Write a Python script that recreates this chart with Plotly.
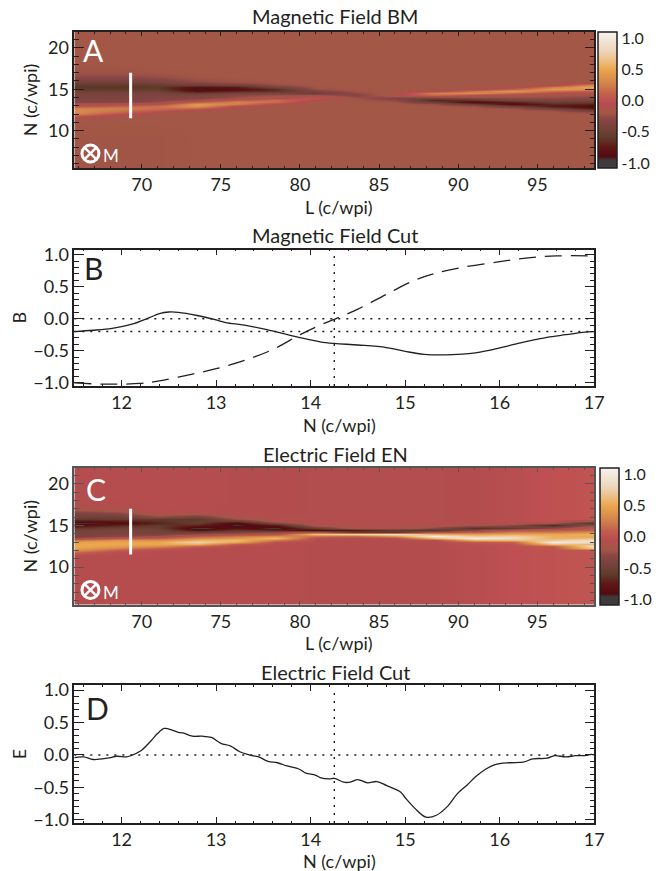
import numpy as np
import plotly.graph_objects as go

W, H = 658, 871
FONT = "Lato"
INK = "#231f20"

# ---- heat-map tables (values in hundredths), one list per L column, rows follow N_ROWS
N_ROWS = [5.5, 9, 11, 11.5, 11.75, 12, 12.25, 12.5, 12.75, 13, 13.25, 13.5, 13.75, 14,
          14.25, 14.5, 14.75, 15, 15.25, 15.5, 15.75, 16, 16.5, 17, 18, 22]
L_COLS = [65.7, 68.5, 71, 73.5, 76, 78.5, 81, 83.5, 86, 88.5, 91, 93.5, 96, 98.6]

BM_COLS = [
 [-21,-21,-20,-12,3,28,33,35,24,2,-16,-32,-37,-38,-40,-42,-48,-58,-62,-58,-50,-42,-30,-23,-20,-20],
 [-21,-21,-20,-19,-14,-2,15,22,25,10,-14,-30,-36,-38,-40,-43,-50,-60,-63,-58,-50,-42,-30,-23,-20,-20],
 [-21,-21,-20,-20,-20,-18,-8,8,18,18,-5,-25,-32,-34,-36,-40,-48,-55,-60,-55,-46,-36,-26,-21,-20,-20],
 [-20,-20,-20,-20,-20,-20,-19,-10,15,40,42,10,-22,-32,-38,-55,-80,-92,-82,-52,-34,-26,-21,-20,-20,-20],
 [-20,-20,-20,-20,-20,-20,-20,-20,-16,-2,25,30,6,-22,-30,-42,-68,-85,-75,-48,-28,-22,-20,-20,-20,-20],
 [-20,-20,-20,-20,-20,-20,-20,-20,-20,-18,-8,15,18,-8,-24,-38,-62,-66,-42,-26,-21,-20,-20,-20,-20,-20],
 [-20,-20,-20,-20,-20,-20,-20,-20,-20,-20,-20,-18,-8,3,-22,-50,-38,-24,-21,-20,-20,-20,-20,-20,-20,-20],
 [-20,-20,-20,-20,-20,-20,-20,-20,-20,-20,-20,-20,-20,-22,-32,-28,-21,-20,-20,-20,-20,-20,-20,-20,-20,-20],
 [-20,-20,-20,-20,-20,-20,-20,-20,-20,-20,-20,-21,-28,-36,-12,-14,-20,-20,-20,-20,-20,-20,-20,-20,-20,-20],
 [-20,-20,-20,-20,-20,-20,-20,-20,-20,-20,-24,-50,-70,-45,15,28,-8,-18,-20,-20,-20,-20,-20,-20,-20,-20],
 [-20,-20,-20,-20,-20,-20,-20,-20,-20,-24,-52,-88,-62,-32,-5,35,20,-12,-20,-20,-20,-20,-20,-20,-20,-20],
 [-20,-20,-20,-20,-20,-20,-20,-20,-24,-50,-86,-72,-42,-28,-16,15,42,12,-16,-20,-20,-20,-20,-20,-20,-20],
 [-20,-20,-20,-20,-20,-20,-20,-26,-52,-76,-68,-52,-38,-28,-20,-5,18,42,25,-10,-20,-20,-20,-20,-20,-20],
 [-20,-20,-20,-20,-20,-20,-28,-52,-78,-88,-72,-55,-42,-32,-22,-12,5,35,50,35,-5,-18,-20,-20,-20,-20],
]

EN_COLS = [
 [-4,-4,-4,-4,15,38,48,52,50,45,20,-25,-42,-40,-42,-45,-60,-85,-95,-80,-60,-50,-38,-15,-5,-4],
 [-4,-4,-4,-4,-3,8,30,45,50,50,38,0,-30,-38,-40,-42,-50,-70,-90,-75,-55,-48,-30,-8,-4,-4],
 [-4,-4,-4,-4,-4,-3,12,35,50,50,35,5,-20,-40,-45,-45,-50,-60,-70,-65,-60,-30,-8,-4,-4,-4],
 [-4,-4,-4,-4,-4,-4,-4,12,55,78,55,30,5,-25,-50,-80,-100,-70,-55,-55,-60,-45,-10,-5,-4,-4],
 [-4,-4,-4,-4,-4,-4,-4,-4,8,50,62,40,20,-15,-40,-60,-80,-95,-90,-55,-25,-10,-6,-5,-5,-5],
 [-4,-4,-4,-4,-4,-4,-4,-4,-4,-2,25,60,35,-5,-30,-70,-98,-75,-35,-10,-6,-6,-5,-5,-5,-5],
 [-5,-5,-5,-5,-5,-5,-5,-5,-5,-5,-5,-3,20,65,-10,-90,-50,-10,-6,-6,-6,-6,-6,-6,-6,-6],
 [-5,-5,-5,-5,-5,-5,-5,-5,-5,-5,-5,-5,15,80,-55,-75,-12,-8,-6,-6,-6,-6,-6,-6,-6,-6],
 [-5,-5,-5,-5,-5,-5,-5,-5,-5,-5,-5,-4,40,90,-60,-55,-10,-8,-6,-6,-6,-6,-6,-6,-6,-6],
 [-5,-5,-5,-5,-5,-5,-5,-5,-5,-5,-3,60,100,55,-10,-65,-30,-8,-6,-6,-6,-6,-6,-6,-6,-6],
 [-3,-3,-3,-3,-3,-3,-3,-3,-1,5,55,100,70,45,8,-30,-65,-15,-6,-5,-5,-5,-5,-5,-5,-5],
 [0,0,0,0,0,0,0,0,1,10,60,85,75,50,25,0,-55,-30,-3,-3,-3,-3,-3,-3,-3,-3],
 [2,2,2,2,2,2,2,8,65,100,70,55,55,50,25,5,-30,-70,-20,1,1,1,1,1,1,1],
 [4,4,4,4,4,8,70,90,60,85,90,60,50,55,35,12,3,-25,-65,-25,2,3,3,3,3,3],
]

CB_TICKS = [-1.0, -0.5, 0.0, 0.5, 1.0]

# ---- line cuts
CUT_N_SOLID = [11.5,11.7,11.9,12.1,12.3,12.4,12.5,12.6,12.8,13.0,13.1,13.3,13.5,13.7,13.9,14.1,14.25,14.5,14.8,15.0,15.2,15.5,15.7,15.9,16.1,16.3,16.5,16.7,16.9,17.0]
CUT_B_SOLID = [-0.2,-0.18,-0.15,-0.09,0.02,0.08,0.105,0.1,0.05,-0.02,-0.06,-0.1,-0.16,-0.23,-0.3,-0.36,-0.385,-0.41,-0.45,-0.51,-0.555,-0.56,-0.54,-0.49,-0.42,-0.35,-0.29,-0.25,-0.21,-0.2]
CUT_N_DASH = [11.5,11.8,12.2,12.4,12.7,13.0,13.3,13.6,13.9,14.1,14.25,14.5,14.8,15.1,15.3,15.6,16.0,16.3,16.6,17.0]
CUT_B_DASH = [-1.0,-1.02,-1.01,-0.97,-0.88,-0.78,-0.65,-0.48,-0.24,-0.1,-0.01,0.15,0.38,0.6,0.7,0.8,0.89,0.95,0.98,0.98]
CUT_N_E = [11.5,11.6,11.7,11.85,11.95,12.05,12.1,12.2,12.3,12.38,12.45,12.5,12.6,12.65,12.75,12.85,12.95,13.05,13.15,13.25,13.35,13.45,13.55,13.65,13.75,13.88,13.95,14.05,14.1,14.2,14.25,14.35,14.42,14.5,14.6,14.7,14.8,14.95,15.0,15.1,15.22,15.33,15.45,15.55,15.65,15.75,15.85,15.95,16.1,16.25,16.35,16.5,16.58,16.7,16.8,16.9,16.97,17.0]
CUT_E = [-.04,-.03,-.07,-.05,-.02,-.03,-.01,.06,.2,.33,.41,.40,.35,.34,.29,.29,.27,.18,.14,.05,.0,-.03,-.1,-.12,-.17,-.22,-.28,-.31,-.35,-.37,-.36,-.42,-.42,-.38,-.43,-.41,-.47,-.57,-.66,-.82,-.96,-.93,-.79,-.6,-.47,-.33,-.22,-.15,-.12,-.11,-.06,-.05,-.01,-.03,-.01,-.01,.01,0]
CUT_POS = 14.25
BAR_L = 69.3
BAR_N = [11.5, 17.0]

COLORSCALE_V = [-1.08,-0.95,-0.9,-0.75,-0.6,-0.45,-0.3,-0.2,-0.05,0.0,0.1,0.25,0.5,0.6,0.8,1.1]
COLORSCALE_C = ["#3c3c3c","#3f3a3a","#520a10","#601615","#5f3a2a","#74423a","#8a4545","#a35746",
                "#b34d4d","#bf4f52","#c0604c","#cf7f4c","#eba64e","#edb875","#edd6bd","#f5f3ee"]
ZMIN, ZMAX = COLORSCALE_V[0], COLORSCALE_V[-1]
scale = [[(v - ZMIN) / (ZMAX - ZMIN), c] for v, c in zip(COLORSCALE_V, COLORSCALE_C)]

# ---- pixel layout
L, R = 74.3, 594.3
PANELS = {"A": (32, 168), "B": (249.5, 386), "C": (468, 604.5), "D": (685, 823)}


def fx(px):
    return px / W


def fy(py):
    return 1 - py / H


def dom(k):
    t, b = PANELS[k]
    return [fy(b), fy(t)]


fig = go.Figure()
tick_font = dict(family=FONT, size=18, color=INK)


def add_map(z_cols, xa, ya, key, cbx):
    t, b = PANELS[key]
    fig.add_trace(go.Heatmap(
        x=L_COLS, y=N_ROWS, z=(np.array(z_cols).T / 100.0).tolist(),
        xaxis=xa, yaxis=ya, zsmooth="best", zmin=ZMIN, zmax=ZMAX, colorscale=scale,
        colorbar=dict(x=fx(cbx), xanchor="left", xpad=0, ypad=0, y=fy((t + b) / 2), yanchor="middle",
                      len=(b - t) / H, lenmode="fraction", thickness=19, thicknessmode="pixels",
                      outlinecolor=INK, outlinewidth=1.5, borderwidth=0, ticks="",
                      tickvals=CB_TICKS, ticktext=["-1.0", "-0.5", "0.0", "0.5", "1.0"],
                      tickfont=dict(family=FONT, size=16, color=INK)),
    ))
    fig.add_trace(go.Scatter(x=[BAR_L, BAR_L], y=BAR_N, mode="lines", xaxis=xa, yaxis=ya,
                             line=dict(color="white", width=3), showlegend=False))


add_map(BM_COLS, "x", "y", "A", 598)
add_map(EN_COLS, "x3", "y3", "C", 599.5)

line_kw = dict(mode="lines", showlegend=False)
fig.add_trace(go.Scatter(x=CUT_N_SOLID, y=CUT_B_SOLID, xaxis="x2", yaxis="y2",
                         line=dict(color=INK, width=1.3, shape="spline"), **line_kw))
fig.add_trace(go.Scatter(x=CUT_N_DASH, y=CUT_B_DASH, xaxis="x2", yaxis="y2",
                         line=dict(color=INK, width=1.3, shape="spline", dash="17px,9px"), **line_kw))
fig.add_trace(go.Scatter(x=CUT_N_E, y=CUT_E, xaxis="x4", yaxis="y4",
                         line=dict(color=INK, width=1.3, shape="spline"), **line_kw))

dot = dict(color=INK, width=1.4, dash="2px,6px")
for ax, vals in (("2", [0, -0.2]), ("4", [0])):
    for v in vals:
        fig.add_shape(type="line", x0=11.5, x1=17, y0=v, y1=v, xref="x" + ax, yref="y" + ax, line=dot, layer="above")
    fig.add_shape(type="line", x0=CUT_POS, x1=CUT_POS, y0=-1.05, y1=1.0 if ax == "4" else 1.08,
                  xref="x" + ax, yref="y" + ax, line=dot, layer="above")


def xaxis(key, rng, dt, mdt, color=INK, ticklen=4):
    return dict(domain=[fx(L), fx(R)], range=rng, dtick=dt, tick0=0, ticks="inside", ticklen=ticklen, tickwidth=1.1,
                tickcolor=color, showgrid=False, zeroline=False, showline=True, linecolor=color, linewidth=1.6, mirror="allticks",
                minor=dict(ticks="inside", dtick=mdt, ticklen=2, tickcolor=color, tickwidth=1, showgrid=False),
                tickfont=tick_font, ticklabelstandoff=0)


def yaxis(key, rng, dt, mdt, title, standoff, anchor, color=INK, fmt=None):
    d = dict(domain=dom(key), range=rng, dtick=dt, tick0=0, ticks="inside", ticklen=10, tickwidth=1.1,
             tickcolor=color, showgrid=False, zeroline=False, showline=True, linecolor=color, linewidth=1.6, mirror="allticks",
             minor=dict(ticks="inside", dtick=mdt, ticklen=5, tickcolor=color, tickwidth=1, showgrid=False),
             tickfont=tick_font, anchor=anchor,
             title=dict(text=title, font=dict(family=FONT, size=18, color=INK), standoff=standoff))
    if fmt:
        d["tickformat"] = fmt
    return d


MAP_XR = [65.74, 98.6]
MAP_YR = [5.5, 21.9]
CUT_XR = [11.5, 17]
CUT_YR = [-1.05, 1.08]
GR = "#555555"

ann = []


def text(s, px, py, size, color=INK, angle=0):
    ann.append(dict(text=s, x=fx(px), y=fy(py), xref="paper", yref="paper", showarrow=False,
                    xanchor="center", yanchor="middle", textangle=angle,
                    font=dict(family=FONT, size=size, color=color)))


text("Magnetic Field BM", 335, 16, 20)
text("Magnetic Field Cut", 335, 235, 20)
text("Electric Field EN", 335, 454, 20)
text("Electric Field Cut", 335, 672, 20)
text("L (c/wpi)", 339, 207, 18)
text("N (c/wpi)", 339, 425, 18)
text("L (c/wpi)", 339, 643, 18)
text("N (c/wpi)", 339, 861, 18)
text("A", 93, 50, 30, "white")
text("B", 93, 268, 30)
text("C", 96, 489, 30, "white")
text("D", 97, 708, 30)
text("M", 111, 155, 17, "white")
text("M", 111, 592, 17, "white")

# crossed-circle symbol for the out-of-plane direction
for yref, anchor in (("y", 7.25), ("y3", 7.25)):
    fig.add_shape(type="circle", xref="x" if yref == "y" else "x3", yref=yref,
                  xsizemode="pixel", ysizemode="pixel", xanchor=66.76, yanchor=anchor,
                  x0=-8.5, x1=8.5, y0=-8.5, y1=8.5, line=dict(color="white", width=3), layer="above")
    for s in (1, -1):
        fig.add_shape(type="line", xref="x" if yref == "y" else "x3", yref=yref,
                      xsizemode="pixel", ysizemode="pixel", xanchor=66.76, yanchor=anchor,
                      x0=-6, x1=6, y0=-6 * s, y1=6 * s, line=dict(color="white", width=2.5), layer="above")

fig.update_layout(
    width=W, height=H, autosize=False, margin=dict(l=0, r=0, t=0, b=0, autoexpand=False),
    paper_bgcolor="white", plot_bgcolor="white", showlegend=False, annotations=ann,
    xaxis=dict(xaxis("A", MAP_XR, 5, 1), anchor="y"),
    yaxis=yaxis("A", MAP_YR, 5, 1, "N (c/wpi)", 6, "x"),
    xaxis2=dict(xaxis("B", CUT_XR, 1, 0.2, ticklen=6), anchor="y2"),
    yaxis2=yaxis("B", CUT_YR, 0.5, 0.1, "B", 2, "x2", fmt=".1f"),
    xaxis3=dict(xaxis("C", MAP_XR, 5, 1, color=GR), anchor="y3"),
    yaxis3=yaxis("C", MAP_YR, 5, 1, "N (c/wpi)", 6, "x3", color=GR),
    xaxis4=dict(xaxis("D", CUT_XR, 1, 0.2, ticklen=6), anchor="y4"),
    yaxis4=yaxis("D", CUT_YR, 0.5, 0.1, "E", 2, "x4", fmt=".1f"),
)

fig.write_html("out.html", config={"displayModeBar": False}, post_script="document.body.style.margin='0';")
